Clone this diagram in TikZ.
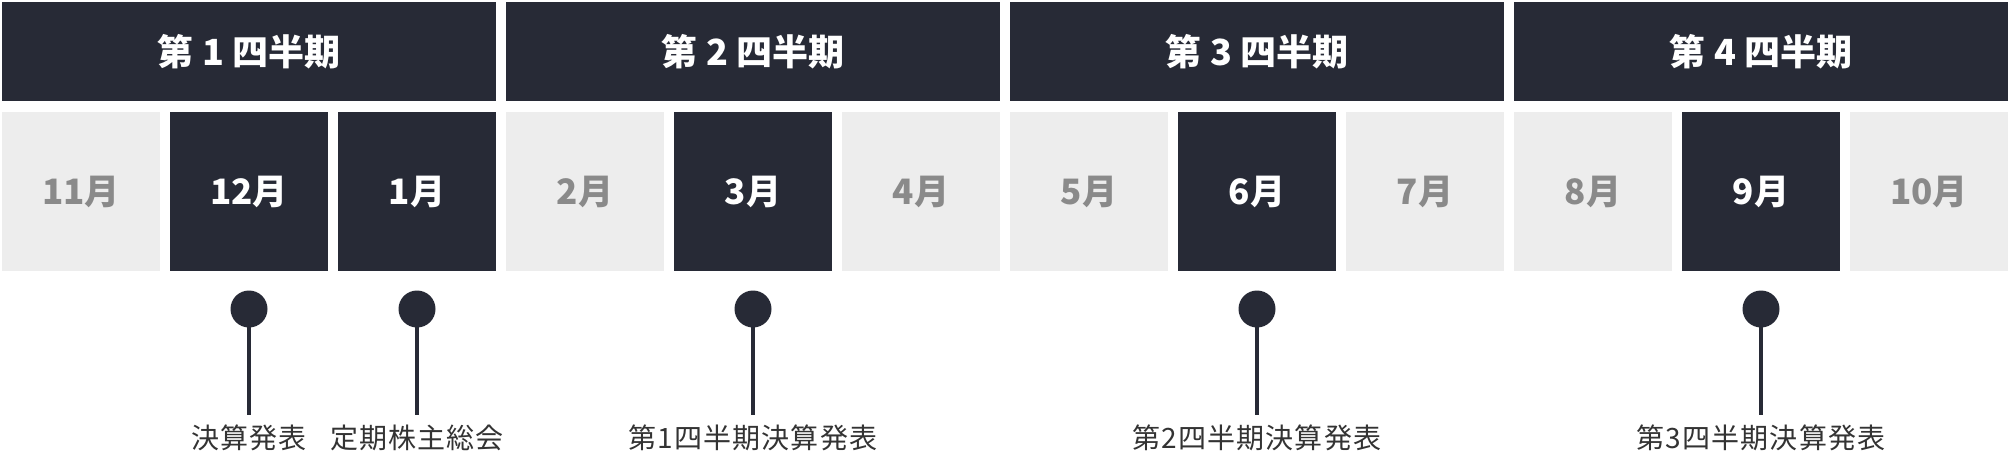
\documentclass[tikz,border=0pt]{standalone}
\usepackage{fontspec}
\setmainfont{Noto Sans CJK JP}
\newfontfamily\jpfont{Noto Sans CJK JP}
\newfontfamily\jplabelfont[LetterSpace=4]{Noto Sans CJK JP}
\definecolor{navy}{HTML}{272A36}
\definecolor{lightbox}{HTML}{EDEDED}
\definecolor{greytext}{HTML}{8A8A8A}
\definecolor{labeltext}{HTML}{333333}
\tikzset{
  qbox/.style={fill=navy, draw=none, minimum width=494pt, minimum height=99pt, inner sep=0pt,
    text=white, font=\jpfont\bfseries\fontsize{36}{42}\selectfont},
  mon/.style={draw=none, minimum width=158pt, minimum height=159pt, inner sep=0pt,
    font=\jpfont\bfseries\fontsize{35}{42}\selectfont},
  monoff/.style={mon, fill=lightbox, text=greytext},
  monon/.style={mon, fill=navy, text=white},
  pin/.style={circle, fill=navy, draw=none, minimum size=37pt, inner sep=0pt},
  evlabel/.style={text=labeltext, font=\jplabelfont\fontsize{28}{32}\selectfont, inner sep=0pt},
  stem/.style={draw=navy, line width=3.3pt, shorten >=10pt}
}
\begin{document}
\begin{tikzpicture}[x=1pt,y=-1pt]
\useasboundingbox (0,0) rectangle (2010,458);
\fill[white] (0,0) rectangle (2010,458);
% quarter headers
\node[qbox] (q1) at (249,51.5) {第 1 四半期};
\node[qbox] (q2) at (753,51.5) {第 2 四半期};
\node[qbox] (q3) at (1257,51.5) {第 3 四半期};
\node[qbox] (q4) at (1761,51.5) {第 4 四半期};
% months
\node[monoff] (m11) at (81,191.5) {11月};
\node[monon]  (m12) at (249,191.5) {12月};
\node[monon]  (m1)  at (417,191.5) {1月};
\node[monoff] (m2)  at (585,191.5) {2月};
\node[monon]  (m3)  at (753,191.5) {3月};
\node[monoff] (m4)  at (921,191.5) {4月};
\node[monoff] (m5)  at (1089,191.5) {5月};
\node[monon]  (m6)  at (1257,191.5) {6月};
\node[monoff] (m7)  at (1425,191.5) {7月};
\node[monoff] (m8)  at (1593,191.5) {8月};
\node[monon]  (m9)  at (1761,191.5) {9月};
\node[monoff] (m10) at (1929,191.5) {10月};
% event labels
\node[evlabel] (l12) at (249,438) {決算発表};
\node[evlabel] (l1)  at (417,438) {定期株主総会};
\node[evlabel] (l3)  at (753,438) {第1四半期決算発表};
\node[evlabel] (l6)  at (1257,438) {第2四半期決算発表};
\node[evlabel] (l9)  at (1761,438) {第3四半期決算発表};
% pins
\node[pin] (p12) at (249,309) {};
\node[pin] (p1)  at (417,309) {};
\node[pin] (p3)  at (753,309) {};
\node[pin] (p6)  at (1257,309) {};
\node[pin] (p9)  at (1761,309) {};
\draw[stem] (p12.center) -- (l12.north);
\draw[stem] (p1.center) -- (l1.north);
\draw[stem] (p3.center) -- (l3.north);
\draw[stem] (p6.center) -- (l6.north);
\draw[stem] (p9.center) -- (l9.north);
\end{tikzpicture}
\end{document}
